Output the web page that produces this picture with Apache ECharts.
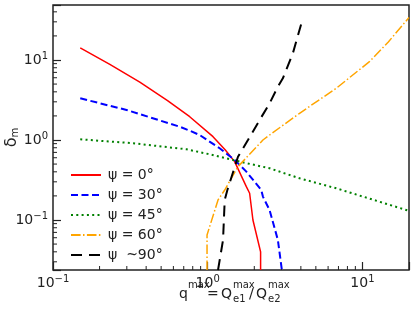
<!DOCTYPE html>
<html>
<head>
<meta charset="utf-8">
<script src="https://cdn.jsdelivr.net/npm/echarts@6/dist/echarts.min.js"></script>
<style>html,body{margin:0;padding:0;background:#fff}#c{width:415px;height:312px}</style>
</head>
<body>
<div id="c"></div>
<script>
// ---- data (x = q^max, y = delta_m) ----
const seriesNames = ['ψ = 0°', 'ψ = 30°', 'ψ = 45°', 'ψ = 60°', 'ψ  ~90°'];
const psi0 = [[0.15,14.2],[0.233,8.8],[0.364,5.3],[0.55,3.1],[0.765,1.955],[1.082,1.10],[1.3,0.75],[1.493,0.536],[1.777,0.261],[1.866,0.216],[1.96,0.10],[2.197,0.04],[2.197,0.0237]];
const psi30 = [[0.15,3.32],[0.299,2.37],[0.659,1.467],[0.765,1.307],[0.887,1.155],[1.195,0.788],[1.493,0.562],[1.777,0.402],[2.22,0.237],[2.274,0.196],[2.512,0.133],[2.841,0.0562],[3.015,0.0237]];
const psi45 = [[0.15,1.02],[0.33,0.91],[0.729,0.765],[1.076,0.65],[1.609,0.536],[2.512,0.443],[3.924,0.332],[6.77,0.249],[20,0.13]];
const psi60 = [[0.99,0.0237],[0.99,0.065],[1.166,0.178],[1.288,0.237],[1.569,0.464],[2.274,1.0],[2.512,1.155],[3.924,2.157],[6.77,4.43],[11.1,9.52],[14.7,16.8],[20,34.0]];
const psi90 = [[1.166,0.0237],[1.256,0.0562],[1.288,0.178],[1.34,0.237],[1.569,0.618],[1.82,1.0],[2.166,1.778],[2.512,2.875],[2.841,4.64],[3.06,5.9],[3.55,12.1],[4.12,33.2]];
const xRange = [0.1, 20];
const yRange = [0.0237, 48.7];
const xMinorTicks = [0.2,0.3,0.4,0.5,0.6,0.7,0.8,0.9,2,3,4,5,6,7,8,9];
const yMinorTicks = [0.03,0.04,0.05,0.06,0.07,0.08,0.09,0.2,0.3,0.4,0.5,0.6,0.7,0.8,0.9,2,3,4,5,6,7,8,9,20,30,40];

const FONT = 'DejaVu Sans';
const INK = '#222';

function powLabel(v) {
  const l = Math.log10(v);
  const e = Math.round(l);
  if (Math.abs(l - e) > 1e-6) return '';
  return '{b|10}{s|' + (e < 0 ? '\u2212' + (-e) : e) + '}';
}
const labelRich = {
  b: {fontSize: 14, fontFamily: FONT, color: INK, lineHeight: 18},
  s: {fontSize: 10, fontFamily: FONT, color: INK, verticalAlign: 'top', lineHeight: 11}
};

const chart = echarts.init(document.getElementById('c'), null, {renderer: 'canvas'});

function mkLine(name, data, color, width, dash) {
  return {
    name: name, type: 'line', data: data, showSymbol: false, symbol: 'none',
    clip: true, silent: true, animation: false,
    lineStyle: {color: color, width: width, type: dash, cap: 'butt'},
    itemStyle: {color: color}
  };
}

function t(text, x, y, size) {
  return {type: 'text', x: x, y: y, silent: true,
    style: {text: text, fontSize: size, fontFamily: FONT, fill: INK, verticalAlign: 'middle', align: 'left'}};
}

const option = {
  animation: false,
  grid: {left: 53, right: 6, top: 5, bottom: 42, containLabel: false, outerBoundsMode: 'none',
    show: true, borderColor: INK, borderWidth: 1.5, backgroundColor: 'transparent'},
  xAxis: {
    type: 'log', logBase: 10, min: xRange[0], max: xRange[1],
    axisLine: {show: false},
    axisTick: {show: true, inside: true, length: 8, lineStyle: {color: INK, width: 1.2}},
    splitLine: {show: false},
    axisLabel: {formatter: powLabel, rich: labelRich, margin: 4, align: 'center', hideOverlap: false,
      showMinLabel: true, showMaxLabel: true}
  },
  yAxis: {
    type: 'log', logBase: 10, min: yRange[0], max: yRange[1],
    axisLine: {show: false},
    axisTick: {show: true, inside: true, length: 8, lineStyle: {color: INK, width: 1.2}},
    splitLine: {show: false},
    axisLabel: {formatter: powLabel, rich: labelRich, margin: 5, showMinLabel: true, showMaxLabel: true},
    name: 'δ{m|m}', nameLocation: 'middle', nameRotate: 90, nameGap: 33, nameMoveOverlap: false,
    nameTextStyle: {fontSize: 16, fontFamily: FONT, color: INK,
      rich: {m: {fontSize: 10, fontFamily: FONT, color: INK, verticalAlign: 'bottom', lineHeight: 10}}}
  },
  legend: {
    data: seriesNames, orient: 'vertical', left: 65, top: 163,
    itemWidth: 30, itemHeight: 14, itemGap: 6,
    itemStyle: {opacity: 0},
    textStyle: {fontSize: 14, fontFamily: FONT, color: INK, padding: [0, 0, 0, 2]},
    selectedMode: false
  },
  graphic: [
    t('q', 179, 294, 14),
    t('max', 188, 285, 10),
    t('=', 207, 294, 14),
    t('Q', 221, 294, 14),
    t('max', 233, 285, 10),
    t('e1', 233, 299, 10),
    t('/', 249, 294, 14),
    t('Q', 256, 294, 14),
    t('max', 268, 285, 10),
    t('e2', 268, 299, 10)
  ],
  series: [
    mkLine(seriesNames[0], psi0, '#ff0000', 1.5, 'solid'),
    mkLine(seriesNames[1], psi30, '#0000ff', 2, [7, 3.5]),
    mkLine(seriesNames[2], psi45, '#008000', 2, [2, 3.3]),
    mkLine(seriesNames[3], psi60, '#ffa500', 1.5, [9.6, 2.4, 1.5, 2.4]),
    mkLine(seriesNames[4], psi90, '#000000', 2, [11, 7]),
    {
      type: 'custom', silent: true, animation: false,
      data: xMinorTicks.map(v => [v, 1]),
      renderItem: function (params, api) {
        const cs = params.coordSys;
        const p = api.coord([api.value(0), api.value(1)]);
        const yb = cs.y + cs.height;
        return {type: 'line', shape: {x1: p[0], y1: yb, x2: p[0], y2: yb - 4}, style: {stroke: INK, lineWidth: 1}};
      }
    },
    {
      type: 'custom', silent: true, animation: false,
      data: yMinorTicks.map(v => [1, v]),
      renderItem: function (params, api) {
        const cs = params.coordSys;
        const p = api.coord([api.value(0), api.value(1)]);
        return {type: 'line', shape: {x1: cs.x, y1: p[1], x2: cs.x + 4, y2: p[1]}, style: {stroke: INK, lineWidth: 1}};
      }
    }
  ]
};
chart.setOption(option);
</script>
</body>
</html>
